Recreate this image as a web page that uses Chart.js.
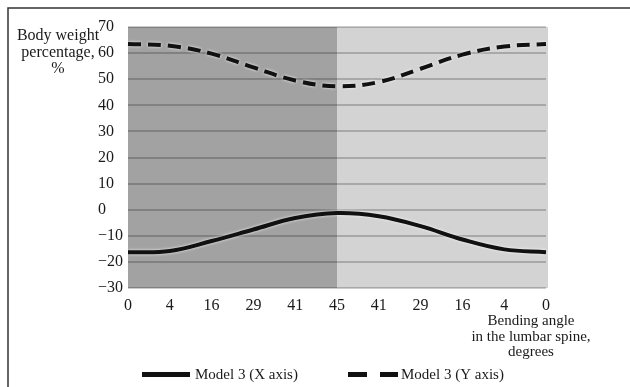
<!DOCTYPE html>
<html>
<head>
<meta charset="utf-8">
<script src="https://cdn.jsdelivr.net/npm/chart.js@4.4.1/dist/chart.umd.min.js"></script>
<style>
  html, body { margin: 0; padding: 0; background: #fff; }
  #wrap { position: relative; width: 630px; height: 387px; }
</style>
</head>
<body>
<div id="wrap"><canvas id="weightChart" width="630" height="387"></canvas></div>
<script>
// bending angle in the lumbar spine (forward then back)
const angles = ['0', '4', '16', '29', '41', '45', '41', '29', '16', '4', '0'];
// body weight percentage
const model3X = [-16.3, -15.8, -12, -7.6, -3.2, -1.3, -2.5, -6.3, -11.4, -15.2, -16.3];
const model3Y = [63.5, 62.8, 59.8, 54.5, 49.5, 47.3, 48.9, 54, 59.4, 62.5, 63.5];
const yTitle = ['Body weight', 'percentage,', '%'];
const xTitle = ['Bending angle', 'in the lumbar spine,', 'degrees'];

const serif = "'Liberation Serif', 'Times New Roman', serif";

// grey bands behind the plot, dark up to 45 degrees
const bands = {
  id: 'bands',
  beforeDraw(chart) {
    const {ctx, chartArea: a, scales} = chart;
    const mid = scales.x.getPixelForValue(5);
    ctx.save();
    ctx.fillStyle = '#a2a2a2';
    ctx.fillRect(a.left, a.top, mid - a.left, a.bottom - a.top);
    ctx.fillStyle = '#d3d3d3';
    ctx.fillRect(mid, a.top, a.right + 2 - mid, a.bottom - a.top);
    ctx.restore();
  }
};

// light halo round the lines
const halo = {
  id: 'halo',
  beforeDatasetDraw(chart) {
    chart.ctx.save();
    chart.ctx.shadowColor = 'rgba(255,255,255,0.9)';
    chart.ctx.shadowBlur = 3;
  },
  afterDatasetDraw(chart) {
    chart.ctx.restore();
  }
};

// frame, axis titles and legend
const extras = {
  id: 'extras',
  afterDraw(chart) {
    const ctx = chart.ctx;
    ctx.save();
    ctx.strokeStyle = '#333';
    ctx.lineWidth = 1.5;
    ctx.beginPath();
    ctx.moveTo(8, 400);
    ctx.lineTo(8, 8);
    ctx.lineTo(640, 8);
    ctx.stroke();

    ctx.fillStyle = '#1a1a1a';
    ctx.textAlign = 'center';
    ctx.textBaseline = 'alphabetic';
    ctx.font = '16px ' + serif;
    yTitle.forEach((t, i) => ctx.fillText(t, 58, 40 + i * 16.5));
    ctx.font = '15px ' + serif;
    xTitle.forEach((t, i) => ctx.fillText(t, 531, 325 + i * 15.5));

    // legend
    const ds = chart.data.datasets;
    ctx.textAlign = 'left';
    ctx.textBaseline = 'middle';
    ctx.strokeStyle = '#111';
    ctx.lineWidth = 5;
    ctx.beginPath();
    ctx.moveTo(142, 374.5);
    ctx.lineTo(190, 374.5);
    ctx.stroke();
    ctx.fillText(ds[0].label, 195, 375);

    ctx.setLineDash([19, 13]);
    ctx.beginPath();
    ctx.moveTo(348, 374.5);
    ctx.lineTo(398, 374.5);
    ctx.stroke();
    ctx.setLineDash([]);
    ctx.fillText(ds[1].label, 401, 375);
    ctx.restore();
  }
};

const ctx = document.getElementById('weightChart').getContext('2d');
const weightChart = new Chart(ctx, {
  type: 'line',
  data: {
    labels: angles,
    datasets: [{
      label: 'Model 3 (X axis)',
      data: model3X,
      borderColor: '#111',
      borderWidth: 4,
      pointRadius: 0,
      tension: 0.4,
      fill: false
    }, {
      label: 'Model 3 (Y axis)',
      data: model3Y,
      borderColor: '#111',
      borderWidth: 4,
      borderDash: [13, 7],
      pointRadius: 0,
      tension: 0.4,
      fill: false
    }]
  },
  options: {
    responsive: false,
    animation: false,
    layout: { padding: { top: 27, left: 98, right: 84, bottom: 0 } },
    plugins: {
      legend: { display: false },
      tooltip: { enabled: false }
    },
    scales: {
      x: {
        offset: false,
        border: { display: false },
        grid: { display: false, drawTicks: false },
        ticks: {
          color: '#1a1a1a',
          font: { family: serif, size: 16 },
          padding: 8,
          maxRotation: 0,
          autoSkip: false
        },
        afterFit(scale) { scale.height = 99; }
      },
      y: {
        min: -30,
        max: 70,
        border: { display: false },
        grid: { color: 'rgba(0,0,0,0.2)', lineWidth: 2, drawTicks: false },
        ticks: {
          stepSize: 10,
          crossAlign: 'far',
          color: '#1a1a1a',
          font: { family: serif, size: 16 },
          callback: v => v < 0 ? '\u2212' + Math.abs(v) : String(v)
        },
        afterFit(scale) { scale.width = 30; }
      }
    }
  },
  plugins: [bands, halo, extras]
});
</script>
</body>
</html>
